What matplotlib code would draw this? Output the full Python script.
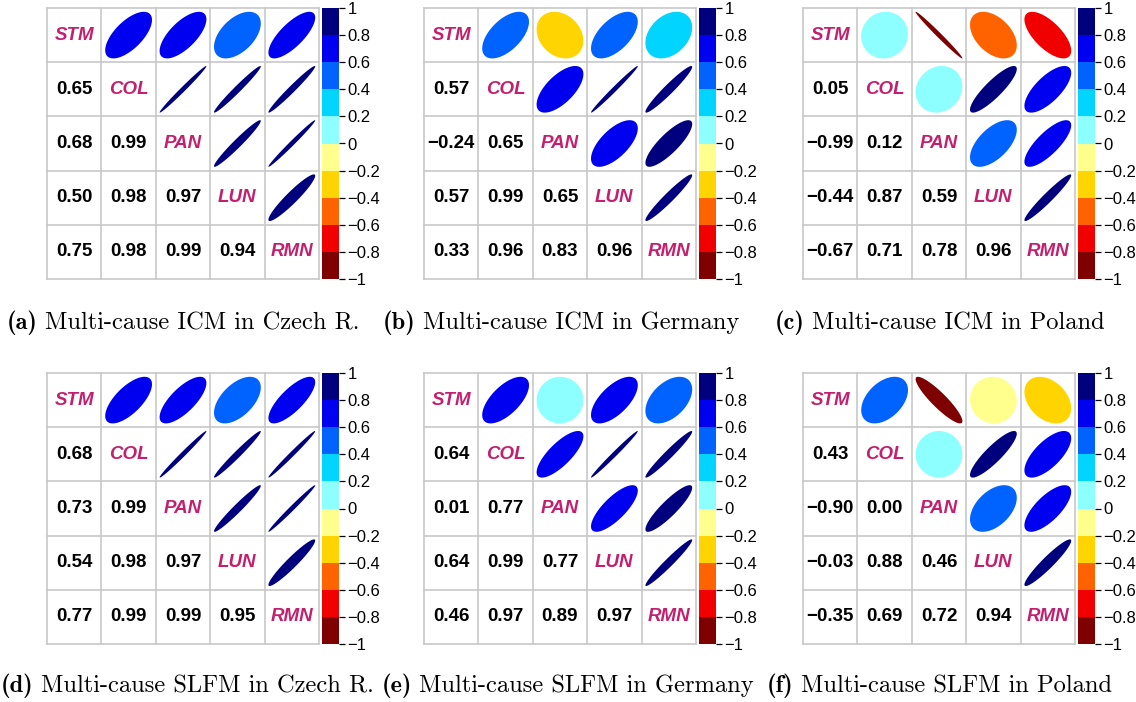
import numpy as np
import matplotlib
matplotlib.use("Agg")
import matplotlib.pyplot as plt
from matplotlib.colors import ListedColormap, BoundaryNorm
from matplotlib.cm import ScalarMappable

plt.rcParams["mathtext.fontset"] = "cm"

# ---------------- data ----------------
variables = ["STM", "COL", "PAN", "LUN", "RMN"]
# lower triangle, row by row: COL|STM ; PAN|STM,COL ; LUN|STM,COL,PAN ; RMN|STM,COL,PAN,LUN
icm_czech = [0.65, 0.68, 0.99, 0.50, 0.98, 0.97, 0.75, 0.98, 0.99, 0.94]
icm_germany = [0.57, -0.24, 0.65, 0.57, 0.99, 0.65, 0.33, 0.96, 0.83, 0.96]
icm_poland = [0.05, -0.99, 0.12, -0.44, 0.87, 0.59, -0.67, 0.71, 0.78, 0.96]
slfm_czech = [0.68, 0.73, 0.99, 0.54, 0.98, 0.97, 0.77, 0.99, 0.99, 0.95]
slfm_germany = [0.64, 0.01, 0.77, 0.64, 0.99, 0.77, 0.46, 0.97, 0.89, 0.97]
slfm_poland = [0.43, -0.90, 0.00, -0.03, 0.88, 0.46, -0.35, 0.69, 0.72, 0.94]

panel_letters = ["a", "b", "c", "d", "e", "f"]
panel_titles = ["Multi-cause ICM in Czech R.", "Multi-cause ICM in Germany",
                "Multi-cause ICM in Poland", "Multi-cause SLFM in Czech R.",
                "Multi-cause SLFM in Germany", "Multi-cause SLFM in Poland"]
panel_data = [icm_czech, icm_germany, icm_poland, slfm_czech, slfm_germany, slfm_poland]

cbar_ticks = [1, 0.8, 0.6, 0.4, 0.2, 0, -0.2, -0.4, -0.6, -0.8, -1]

# ---------------- style ----------------
colors10 = ["#7F0000", "#F10000", "#FF6300", "#FFD400", "#FFFF8E",
            "#8EFFFF", "#00D4FF", "#0063FF", "#0000F1", "#00007F"]
cmap = ListedColormap(colors10)
norm = BoundaryNorm(np.linspace(-1, 1, 11), cmap.N)
label_color = "#C2206E"
grid_color = "#C8C8C8"
SANS = "Liberation Sans"

W, H = 1136, 702
fig = plt.figure(figsize=(W / 100, H / 100), dpi=100)
renderer = fig.canvas.get_renderer()

lefts = [47, 424, 803]
tops = [8, 373]
grid_w, grid_h = 272, 271
cap_x = [[7, 383, 775], [1, 382, 767]]
cap_y = [323, 686]
cap_size = 17.6


def full_matrix(lower):
    n = len(variables)
    m = np.eye(n)
    k = 0
    for i in range(1, n):
        for j in range(i):
            m[i, j] = lower[k]
            m[j, i] = lower[k]
            k += 1
    return m


def fmt(v):
    s = f"{v:.2f}"
    return s.replace("-", "\u2212")


def tick_fmt(v):
    s = f"{v:g}"
    return s.replace("-", "\u2212")


t = np.linspace(0, 2 * np.pi, 200)

for p in range(6):
    r, c = divmod(p, 3)
    L, T = lefts[c], tops[r]
    ax = fig.add_axes([L / W, 1 - (T + grid_h) / H, grid_w / W, grid_h / H])
    n = len(variables)
    ax.set_xlim(0, n)
    ax.set_ylim(0, n)
    ax.axis("off")
    m = full_matrix(panel_data[p])
    for i in range(n):
        for j in range(n):
            cx, cy = j + 0.5, n - i - 0.5
            v = m[i, j]
            if i == j:
                ax.text(cx, cy, variables[i], ha="center", va="center",
                        fontsize=13.5, fontweight="bold", fontstyle="italic",
                        color=label_color, family=SANS)
            elif i > j:
                ax.text(cx, cy, fmt(v), ha="center", va="center",
                        fontsize=13.5, fontweight="bold", color="black", family=SANS)
            else:
                d = np.arccos(np.clip(v, -1, 1))
                ex = np.cos(t + d / 2) / 2 * 0.86
                ey = np.cos(t - d / 2) / 2 * 0.86
                ax.fill(cx + ex, cy + ey, color=cmap(norm(v)), lw=0)
    for k in range(n + 1):
        ax.plot([k, k], [0, n], color=grid_color, lw=1.2, clip_on=False, zorder=0)
        ax.plot([0, n], [k, k], color=grid_color, lw=1.2, clip_on=False, zorder=0)

    cax = fig.add_axes([(L + 275) / W, 1 - (T + grid_h) / H, 17 / W, grid_h / H])
    sm = ScalarMappable(norm=norm, cmap=cmap)
    cb = fig.colorbar(sm, cax=cax, ticks=cbar_ticks)
    cb.outline.set_visible(False)
    cb.ax.set_yticklabels([tick_fmt(v) for v in cbar_ticks])
    cb.ax.tick_params(length=4, width=0.9, labelsize=12, pad=2)
    for lab in cb.ax.get_yticklabels():
        lab.set_family(SANS)

    t1 = fig.text(cap_x[r][c] / W, 1 - cap_y[r] / H, "(" + panel_letters[p] + ")",
                  ha="left", va="center", fontsize=cap_size, family="cmb10")
    bb = t1.get_window_extent(renderer=renderer)
    fig.text((bb.x1 + 7) / W, 1 - cap_y[r] / H, panel_titles[p],
             ha="left", va="center", fontsize=cap_size, family="cmr10")

fig.savefig("out.png", dpi=100)
